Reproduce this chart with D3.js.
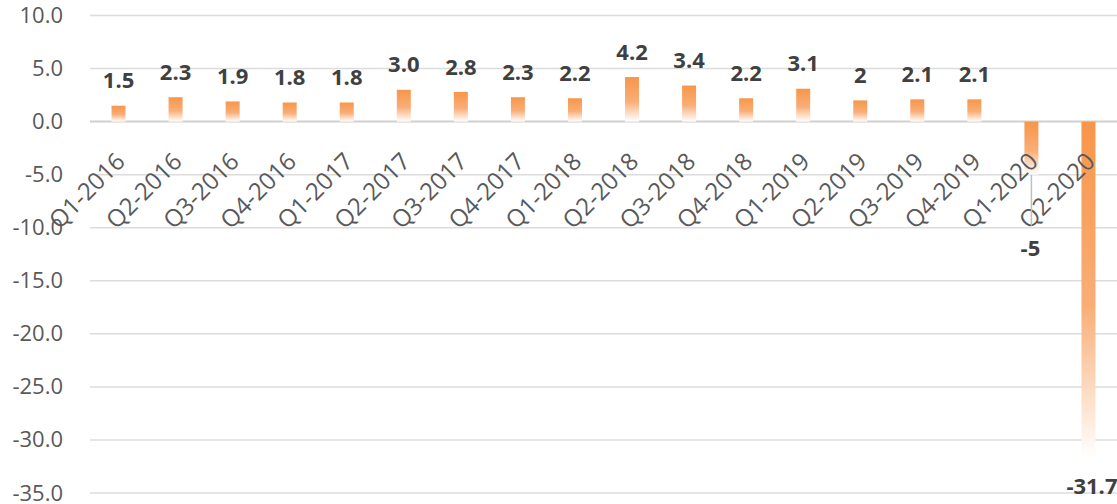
<!DOCTYPE html>
<html><head><meta charset="utf-8">
<script src="https://cdn.jsdelivr.net/npm/d3@7"></script>
<style>body{margin:0;background:#fff;}svg{display:block;}</style>
</head><body>
<svg id="chart" width="1117" height="504"></svg>
<script>
const categories = ["Q1-2016","Q2-2016","Q3-2016","Q4-2016","Q1-2017","Q2-2017","Q3-2017","Q4-2017","Q1-2018","Q2-2018","Q3-2018","Q4-2018","Q1-2019","Q2-2019","Q3-2019","Q4-2019","Q1-2020","Q2-2020"];
const values = [1.5,2.3,1.9,1.8,1.8,3.0,2.8,2.3,2.2,4.2,3.4,2.2,3.1,2,2.1,2.1,-5,-31.7];
const valueLabels = ["1.5","2.3","1.9","1.8","1.8","3.0","2.8","2.3","2.2","4.2","3.4","2.2","3.1","2","2.1","2.1","-5","-31.7"];
const yTicks = [10,5,0,-5,-10,-15,-20,-25,-30,-35];

const svg = d3.select("#chart");
const left = 90, right = 1117;
const y = d3.scaleLinear().domain([-35,10]).range([493,15.5]);
const x = d3.scaleBand().domain(categories).range([left,right]).paddingInner(0).paddingOuter(0);
const barW = 14;

const defs = svg.append("defs");
const grad = defs.append("linearGradient").attr("id","g").attr("x1",0).attr("y1",0).attr("x2",0).attr("y2",1);
grad.append("stop").attr("offset","0%").attr("stop-color","#F7964A");
grad.append("stop").attr("offset","55%").attr("stop-color","#F9AE77");
grad.append("stop").attr("offset","100%").attr("stop-color","#FFFFFF");

// gridlines
svg.append("g").selectAll("line").data(yTicks).join("line")
  .attr("x1",left).attr("x2",right)
  .attr("y1",d=>y(d)).attr("y2",d=>y(d))
  .attr("stroke",d=>d===0?"#D0D0D0":"#DCDCDC").attr("stroke-width",d=>d===0?2:1.5);

// y axis labels
const yAxis = d3.axisLeft(y).tickValues(yTicks).tickFormat(d=>d.toFixed(1)).tickSize(0).tickPadding(0);
const ga = svg.append("g").attr("transform","translate(63,0)").call(yAxis);
ga.select(".domain").remove();
ga.selectAll("text").attr("font-family","Open Sans, sans-serif").attr("font-size",22).attr("fill","#595959").attr("dy","0.32em");

// bars
svg.append("g").selectAll("rect").data(values).join("rect")
  .attr("x",(d,i)=>x(categories[i])+x.bandwidth()/2-barW/2)
  .attr("width",barW)
  .attr("y",d=>Math.min(y(d),y(0)))
  .attr("height",d=>Math.abs(y(d)-y(0)))
  .attr("fill","url(#g)");

// category labels
svg.append("g").selectAll("text").data(categories).join("text")
  .attr("transform",d=>`translate(${x(d)+x.bandwidth()/2+2},${157}) rotate(-45)`)
  .attr("text-anchor","end").attr("dy","0.35em")
  .attr("font-family","Open Sans, sans-serif").attr("font-size",24).attr("fill","#595959")
  .text(d=>d);

// leader line for Q1-2020
const i16 = 16;
svg.append("line")
  .attr("x1",x(categories[i16])+x.bandwidth()/2).attr("x2",x(categories[i16])+x.bandwidth()/2)
  .attr("y1",y(values[i16])).attr("y2",y(-9.8))
  .attr("stroke","#BFBFBF").attr("stroke-width",1.5);

// value labels
svg.append("g").selectAll("text").data(values).join("text")
  .attr("x",(d,i)=>{
    const cx = x(categories[i])+x.bandwidth()/2;
    return i===16 ? cx-1 : cx;
  })
  .attr("y",(d,i)=>{
    if(i===16) return y(-11.9);
    if(i===17) return 486;
    return y(d)-25;
  })
  .attr("dy","0.35em").attr("text-anchor",(d,i)=>i===17?"end":"middle")
  .attr("dx",(d,i)=>i===17?29:0)
  .attr("font-family","Open Sans, sans-serif").attr("font-weight","bold").attr("font-size",22).attr("fill","#404040")
  .text((d,i)=>valueLabels[i]);
</script>
</body></html>
